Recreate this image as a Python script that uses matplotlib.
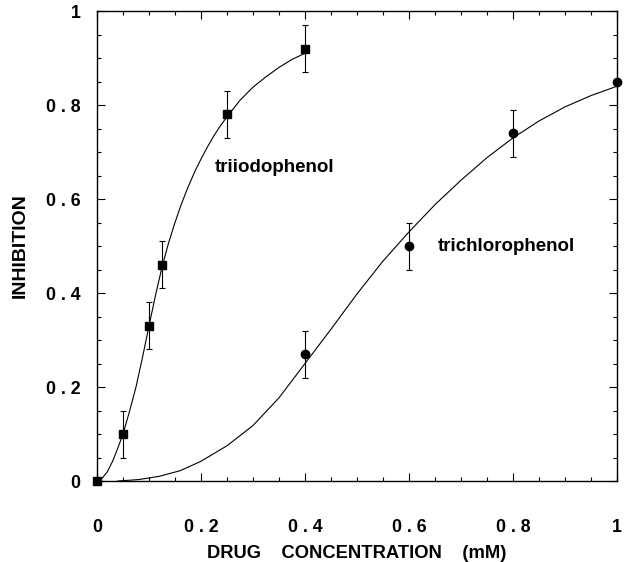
import matplotlib
matplotlib.use("Agg")
import matplotlib.pyplot as plt
from matplotlib.ticker import MultipleLocator, FixedLocator, FixedFormatter

# ---- data ----
tiod_x = [0.0, 0.05, 0.10, 0.125, 0.25, 0.40]
tiod_y = [0.0, 0.10, 0.33, 0.46, 0.78, 0.92]
tiod_err = [0.0, 0.05, 0.05, 0.05, 0.05, 0.05]

tcl_x = [0.40, 0.60, 0.80, 1.00]
tcl_y = [0.27, 0.50, 0.74, 0.85]
tcl_err = [0.05, 0.05, 0.05, 0.0]

# fitted curves
tiod_fit_x = [0, 0.01, 0.02, 0.03, 0.04, 0.05, 0.0625, 0.075, 0.0875, 0.1, 0.1125,
              0.125, 0.1375, 0.15, 0.1625, 0.175, 0.1875, 0.2, 0.2125, 0.225, 0.2375,
              0.25, 0.275, 0.3, 0.325, 0.35, 0.375, 0.4]
tiod_fit_y = [0, 0.006, 0.02, 0.042, 0.07, 0.10, 0.148, 0.20, 0.263, 0.33, 0.395,
              0.455, 0.506, 0.55, 0.59, 0.625, 0.657, 0.685, 0.711, 0.735, 0.756,
              0.775, 0.81, 0.838, 0.86, 0.88, 0.897, 0.91]
tcl_fit_x = [0.04, 0.08, 0.12, 0.16, 0.2, 0.25, 0.3, 0.35, 0.4, 0.45, 0.5, 0.55,
             0.6, 0.65, 0.7, 0.75, 0.8, 0.85, 0.9, 0.95, 1.0]
tcl_fit_y = [0.0, 0.003, 0.01, 0.022, 0.042, 0.075, 0.118, 0.177, 0.25, 0.323, 0.398,
             0.468, 0.53, 0.588, 0.64, 0.688, 0.73, 0.766, 0.796, 0.82, 0.84]

x_ticks = [0, 0.2, 0.4, 0.6, 0.8, 1.0]
x_tick_labels = ["0", "0 . 2", "0 . 4", "0 . 6", "0 . 8", "1"]
y_ticks = [0, 0.2, 0.4, 0.6, 0.8, 1.0]
y_tick_labels = ["0", "0 . 2", "0 . 4", "0 . 6", "0 . 8", "1"]

# ---- plot ----
plt.rcParams['font.family'] = ['Liberation Sans', 'DejaVu Sans']
plt.rcParams['font.weight'] = 'bold'

fig = plt.figure(figsize=(6.3, 5.62), dpi=100)
ax = fig.add_axes([97/630, 1 - 481/562, 520/630, 470/562])

ax.plot(tiod_fit_x, tiod_fit_y, color='black', lw=0.8)
ax.plot(tcl_fit_x, tcl_fit_y, color='black', lw=0.8)

ax.errorbar(tiod_x, tiod_y, yerr=tiod_err, fmt='s', color='black', ms=6,
            ecolor='black', elinewidth=0.8, capsize=2.5, capthick=0.8, clip_on=False)
ax.errorbar(tcl_x, tcl_y, yerr=tcl_err, fmt='o', color='black', ms=6,
            ecolor='black', elinewidth=0.8, capsize=2.5, capthick=0.8, clip_on=False)

ax.text(0.227, 0.668, "triiodophenol", fontsize=13.5, fontweight='bold', va='center')
ax.text(0.656, 0.498, "trichlorophenol", fontsize=13.5, fontweight='bold', va='center')

ax.set_xlim(0, 1)
ax.set_ylim(0, 1)
ax.xaxis.set_major_locator(FixedLocator(x_ticks))
ax.xaxis.set_major_formatter(FixedFormatter(x_tick_labels))
ax.yaxis.set_major_locator(FixedLocator(y_ticks))
ax.yaxis.set_major_formatter(FixedFormatter(y_tick_labels))
ax.xaxis.set_minor_locator(MultipleLocator(0.05))
ax.yaxis.set_minor_locator(MultipleLocator(0.05))

ax.tick_params(which='both', direction='in', top=True, right=True, width=0.8)
ax.tick_params(which='major', length=6)
ax.tick_params(which='minor', length=3)
ax.tick_params(axis='x', which='major', pad=27, labelsize=12.8)
ax.tick_params(axis='y', which='major', pad=12, labelsize=12.8)
for lab in ax.get_xticklabels() + ax.get_yticklabels():
    lab.set_fontweight('bold')

for s in ax.spines.values():
    s.set_linewidth(1.0)

ax.set_xlabel("DRUG    CONCENTRATION    (mM)", fontsize=13.2, fontweight='bold', labelpad=7)
ax.set_ylabel("INHIBITION", fontsize=14, fontweight='bold', labelpad=12)

fig.savefig("out.png", dpi=100)
